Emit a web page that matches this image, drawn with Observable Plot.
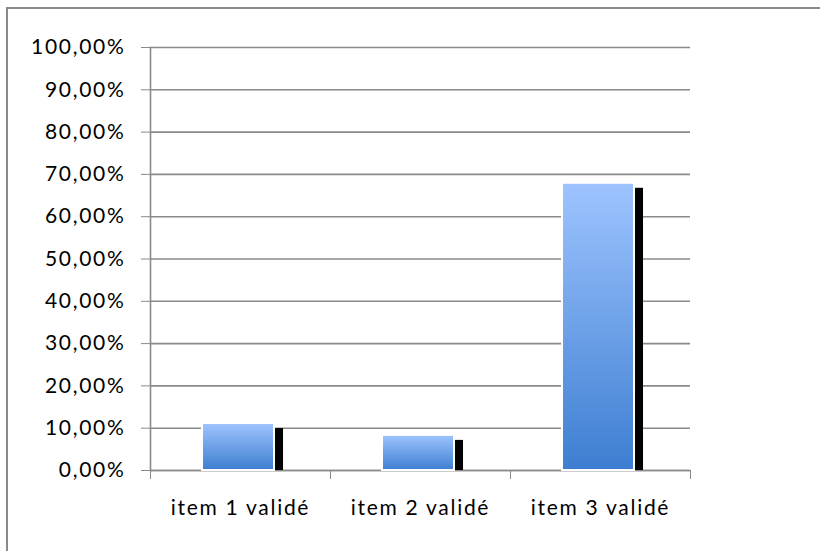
<!DOCTYPE html>
<html>
<head>
<meta charset="utf-8">
<script src="https://cdn.jsdelivr.net/npm/d3@7"></script>
<script src="https://cdn.jsdelivr.net/npm/@observablehq/plot@0.6"></script>
<style>
  html, body { margin: 0; padding: 0; background: #fff; overflow: hidden; }
  #wrap { position: relative; width: 820px; height: 551px; overflow: hidden; }
  #border { position: absolute; left: 6px; top: 7px; width: 900px; height: 700px;
            border-left: 2px solid #8a8a8a; border-top: 2px solid #8a8a8a; box-sizing: border-box; }
  #wrap svg { position: absolute; left: 0; top: 0; }
  #wrap svg text { letter-spacing: 1.7px; }
</style>
</head>
<body>
<div id="wrap"><div id="border"></div></div>
<script>
const categories = ["item 1 validé", "item 2 validé", "item 3 validé"];
const values = [0.111, 0.083, 0.679];
const yTicks = [0, 0.1, 0.2, 0.3, 0.4, 0.5, 0.6, 0.7, 0.8, 0.9, 1.0];

const data = categories.map((c, i) => ({category: c, index: i, value: values[i]}));
const locale = d3.formatLocale({decimal: ",", thousands: " ", grouping: [3], currency: ["", " €"]});
const pct = locale.format(".2%");

const FONT = "Lato";
const chart = Plot.plot({
  width: 820,
  height: 551,
  marginLeft: 150,
  marginRight: 130,
  marginTop: 47,
  marginBottom: 81,
  style: {fontFamily: FONT, fontSize: "21px", color: "black", background: "transparent", overflow: "visible"},
  x: {type: "linear", domain: [0, categories.length]},
  y: {domain: [0, 1]},
  marks: [
    Plot.gridY(yTicks, {stroke: "#8a8a8a", strokeOpacity: 1, strokeWidth: 1.6}),
    Plot.frame({anchor: "left", stroke: "#8a8a8a", strokeWidth: 1.6}),
    Plot.ruleY([0], {stroke: "#8a8a8a", strokeWidth: 1.6}),
    Plot.axisY(yTicks, {tickSize: 9, tickPadding: 16, tickFormat: pct, stroke: "#8a8a8a", fill: "black", fontSize: 21, label: null}),
    Plot.axisX([0, 1, 2, 3], {tickSize: 9, tickFormat: () => "", stroke: "#8a8a8a", label: null}),
    Plot.axisX([0.5, 1.5, 2.5], {tickSize: 0, tickPadding: 30, tickFormat: d => categories[Math.floor(d)], fill: "black", fontSize: 21, label: null}),
    // shadow
    Plot.rectY(data, {x1: d => d.index + 0.289, x2: d => d.index + 0.689, y: "value", fill: "black", dx: 9, insetTop: 5}),
    // bars
    Plot.rectY(data, {x1: d => d.index + 0.289, x2: d => d.index + 0.689, y: "value", fill: "url(#barGrad)", stroke: "white", strokeWidth: 2})
  ]
});

const svg = d3.select(chart);
const defs = svg.insert("defs", ":first-child");
const g = defs.append("linearGradient").attr("id", "barGrad")
  .attr("x1", 0).attr("y1", 0).attr("x2", 0).attr("y2", 1);
g.append("stop").attr("offset", "0%").attr("stop-color", "#9ec4ff");
g.append("stop").attr("offset", "100%").attr("stop-color", "#3d7ed1");

document.getElementById("wrap").appendChild(chart);
</script>
</body>
</html>
